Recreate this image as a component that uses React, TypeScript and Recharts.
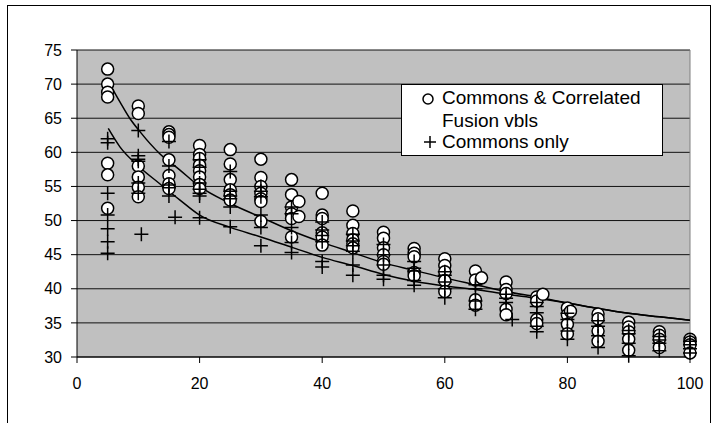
import React from 'react';
import {
  CartesianGrid,
  ComposedChart,
  Line,
  ReferenceLine,
  Scatter,
  XAxis,
  YAxis,
} from 'recharts';

const FONT = '"Liberation Sans", Arial, sans-serif';

const X_LEVELS = [5, 10, 15, 20, 25, 30, 35, 40, 45, 50, 55, 60, 65, 70, 75, 80, 85, 90, 95, 100];

// one row per x level, "Commons & Correlated Fusion vbls"
const FUSION_VALUES: number[][] = [
  [72.2, 70.0, 68.8, 68.1, 58.4, 56.7, 51.8],
  [66.8, 65.7, 58.0, 56.4, 54.9, 53.5],
  [63.0, 62.6, 62.2, 58.9, 56.6, 55.4, 54.7],
  [61.0, 59.7, 59.1, 58.1, 57.3, 56.4, 55.3, 54.7],
  [60.4, 58.3, 56.0, 54.5, 53.8, 53.0],
  [59.0, 56.3, 55.0, 54.0, 53.2, 52.8, 49.9],
  [56.0, 53.8, 52.0, 51.0, 50.3, 47.6],
  [54.0, 50.8, 50.3, 48.2, 47.6, 46.4],
  [51.4, 49.3, 48.1, 47.2, 46.6, 46.0],
  [48.3, 47.4, 46.0, 45.0, 44.0, 43.6],
  [45.9, 45.2, 44.7, 42.4, 41.9],
  [44.4, 43.4, 42.5, 41.2, 39.6],
  [42.6, 41.3, 38.4, 37.6],
  [41.0, 39.9, 39.3, 37.0, 36.2],
  [38.8, 38.2, 35.5, 34.9],
  [37.2, 36.2, 34.8, 33.4],
  [36.3, 35.6, 33.8, 32.3],
  [35.1, 34.4, 33.7, 32.6, 31.0],
  [33.7, 33.2, 32.6, 31.4],
  [32.6, 32.2, 31.8, 30.6],
];
// points sitting a little off the x levels
const FUSION_OFFSET_X = [36.2, 36.2, 66, 76, 80.5];
const FUSION_OFFSET_Y = [52.8, 50.6, 41.6, 39.2, 36.7];

// "Commons only"
const COMMONS_VALUES: number[][] = [
  [62.0, 61.4, 54.0, 50.8, 48.8, 46.9, 45.2],
  [63.2, 59.5, 59.0, 58.7, 55.5, 54.0],
  [61.6, 58.0, 55.2, 54.8, 53.6],
  [58.9, 57.8, 55.5, 54.6, 54.0, 53.6, 50.4],
  [57.2, 54.3, 53.6, 53.2, 52.0, 49.1],
  [55.0, 54.3, 53.5, 50.8, 49.0, 46.3],
  [52.0, 51.0, 49.0, 46.8, 45.3],
  [49.8, 48.6, 47.8, 46.9, 44.0, 43.2],
  [48.0, 47.0, 46.3, 45.5, 43.5, 42.0],
  [46.5, 45.0, 43.5, 42.0, 41.4],
  [44.0, 43.0, 42.6, 41.2, 40.5],
  [42.5, 42.0, 41.0, 40.0, 38.7],
  [40.6, 40.0, 38.2, 37.0],
  [39.2, 38.6, 38.0],
  [38.0, 37.4, 36.5, 34.5, 33.7],
  [36.4, 35.5, 33.8, 32.6],
  [35.3, 34.5, 33.1, 31.4],
  [33.9, 33.4, 32.0, 30.2],
  [33.0, 32.5, 32.0, 30.9],
  [32.3, 31.8, 31.2, 30.6],
];
const COMMONS_OFFSET_X = [10.5, 16, 71];
const COMMONS_OFFSET_Y = [48.0, 50.5, 35.5];

// trend lines
const FUSION_TREND_X = [5.3, 7, 8.6, 10.3, 13.5, 16.8, 20, 25, 30, 35, 40, 45, 50, 55, 60, 65, 70, 75, 80, 85, 90, 95, 100];
const FUSION_TREND_Y = [70.1, 67.4, 65.0, 63.0, 59.8, 57.4, 55.0, 52.5, 50.5, 48.5, 46.8, 45.3, 43.8, 42.7, 41.6, 40.6, 39.6, 38.8, 37.9, 37.1, 36.4, 35.9, 35.4];
const COMMONS_TREND_X = [5.1, 7, 10, 13.5, 16.8, 20, 25, 30, 35, 40, 45, 50, 55, 60, 65, 70, 75, 80, 85, 90, 95, 100];
const COMMONS_TREND_Y = [63.5, 60.8, 58.0, 55.4, 53.0, 50.8, 49.0, 47.6, 46.1, 44.6, 43.4, 42.1, 41.1, 40.4, 39.9, 39.2, 38.6, 37.9, 37.1, 36.4, 35.9, 35.4];

const Y_TICKS = [30, 35, 40, 45, 50, 55, 60, 65, 70, 75];
const X_TICKS = [0, 20, 40, 60, 80, 100];

function toPoints(rows: number[][], ox: number[], oy: number[]) {
  const pts: { x: number; y: number }[] = [];
  rows.forEach((vals, i) => vals.forEach((y) => pts.push({ x: X_LEVELS[i], y })));
  ox.forEach((x, i) => pts.push({ x, y: oy[i] }));
  return pts;
}

const zip = (xs: number[], ys: number[]) => xs.map((x, i) => ({ x, y: ys[i] }));

const fusionPts = toPoints(FUSION_VALUES, FUSION_OFFSET_X, FUSION_OFFSET_Y);
const commonsPts = toPoints(COMMONS_VALUES, COMMONS_OFFSET_X, COMMONS_OFFSET_Y);
const fusionTrend = zip(FUSION_TREND_X, FUSION_TREND_Y);
const commonsTrend = zip(COMMONS_TREND_X, COMMONS_TREND_Y);

const CircleMark = (p: any) => (
  <circle cx={p.cx} cy={p.cy} r={6} fill="#fff" stroke="#000" strokeWidth={1.5} />
);
const PlusMark = (p: any) => (
  <path
    d={`M${p.cx - 7},${p.cy}H${p.cx + 7}M${p.cx},${p.cy - 7}V${p.cy + 7}`}
    stroke="#000"
    strokeWidth={1.5}
    fill="none"
  />
);

function LegendBox() {
  const text: React.CSSProperties = {
    position: 'absolute',
    left: 40,
    fontFamily: FONT,
    fontSize: 19,
    lineHeight: '20px',
    color: '#000',
    whiteSpace: 'nowrap',
  };
  return (
    <div
      style={{
        position: 'absolute',
        left: 401,
        top: 84,
        width: 260,
        height: 70,
        background: '#fff',
        border: '1px solid #000',
      }}
    >
      <svg width={260} height={70} style={{ position: 'absolute', left: 0, top: 0 }}>
        <circle cx={26} cy={14} r={5} fill="#fff" stroke="#000" strokeWidth={1.5} />
        <path d="M22,57H34M28,51V63" stroke="#000" strokeWidth={1.5} />
      </svg>
      <div style={{ ...text, top: 3 }}>Commons &amp; Correlated</div>
      <div style={{ ...text, top: 26 }}>Fusion vbls</div>
      <div style={{ ...text, top: 47 }}>Commons only</div>
    </div>
  );
}

export default function App() {
  return (
    <div
      style={{
        position: 'absolute',
        left: 0,
        top: 0,
        width: 728,
        height: 423,
        overflow: 'hidden',
        background: '#fff',
      }}
    >
      <div
        style={{
          position: 'absolute',
          left: 7,
          top: 5,
          width: 702,
          height: 440,
          border: '1px solid #000',
        }}
      />
      <div style={{ position: 'absolute', left: 0, top: 0 }}>
        <ComposedChart width={728} height={423} margin={{ top: 50, right: 38, bottom: 26, left: 17 }}>
          <CartesianGrid stroke="#111" vertical={false} fill="#c0c0c0" fillOpacity={1} />
          <XAxis
            type="number"
            dataKey="x"
            domain={[0, 100]}
            ticks={X_TICKS}
            height={40}
            tickSize={6}
            tickMargin={15}
            tick={{ fill: '#000', fontSize: 16, fontFamily: FONT }}
            axisLine={{ stroke: '#000' }}
            tickLine={{ stroke: '#000' }}
          />
          <YAxis
            type="number"
            dataKey="y"
            domain={[30, 75]}
            ticks={Y_TICKS}
            width={60}
            tickSize={6}
            tickMargin={9}
            tick={{ fill: '#000', fontSize: 16, fontFamily: FONT }}
            axisLine={{ stroke: '#000' }}
            tickLine={{ stroke: '#000' }}
          />
          <ReferenceLine x={100} stroke="#808080" />
          <Scatter name="Commons & Correlated Fusion vbls" data={fusionPts} dataKey="y" shape={CircleMark} isAnimationActive={false} />
          <Scatter name="Commons only" data={commonsPts} dataKey="y" shape={PlusMark} isAnimationActive={false} />
          <Line data={fusionTrend} dataKey="y" type="monotone" stroke="#000" strokeWidth={1.5} dot={false} activeDot={false} isAnimationActive={false} />
          <Line data={commonsTrend} dataKey="y" type="monotone" stroke="#000" strokeWidth={1.5} dot={false} activeDot={false} isAnimationActive={false} />
        </ComposedChart>
      </div>
      <LegendBox />
    </div>
  );
}
